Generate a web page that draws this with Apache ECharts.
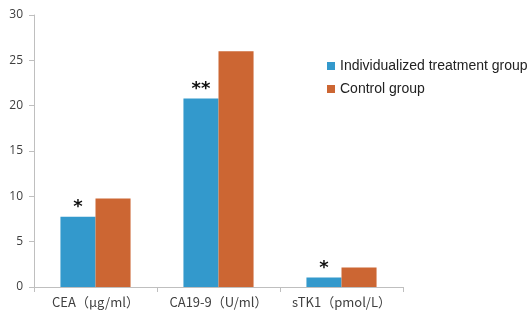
<!DOCTYPE html>
<html>
<head>
<meta charset="utf-8">
<script src="https://cdn.jsdelivr.net/npm/echarts@6/dist/echarts.min.js"></script>
<style>
  html, body { margin: 0; padding: 0; background: #fff; }
  #chart { width: 528px; height: 320px; }
</style>
</head>
<body>
<div id="chart"></div>
<script>
// Tumour marker levels by group
const categories = ['CEA（μg/ml）', 'CA19-9（U/ml）', 'sTK1（pmol/L）'];
const individualized = [7.75, 20.8, 1.05];
const control = [9.75, 26.0, 2.15];
const significance = ['*', '**', '*'];
const seriesNames = ['Individualized treatment group', 'Control group'];

const chart = echarts.init(document.getElementById('chart'));
chart.setOption({
  animation: false,
  backgroundColor: '#ffffff',
  grid: { left: 34, right: 125, top: 15, bottom: 33 },
  legend: {
    orient: 'vertical',
    left: 322,
    top: 54,
    itemWidth: 8,
    itemHeight: 8,
    itemGap: 9,
    icon: 'rect',
    textStyle: { fontFamily: 'Liberation Sans', fontSize: 14, color: '#222' },
    data: seriesNames
  },
  xAxis: {
    type: 'category',
    data: categories,
    axisLine: { lineStyle: { color: '#bfbfbf', width: 1 } },
    axisTick: { show: true, length: 5, lineStyle: { color: '#bfbfbf' } },
    axisLabel: {
      interval: 0,
      hideOverlap: false,
      fontFamily: 'Noto Sans CJK SC',
      fontSize: 13,
      color: '#404040',
      margin: 9
    }
  },
  yAxis: {
    type: 'value',
    min: 0,
    max: 30,
    interval: 5,
    axisLine: { show: true, lineStyle: { color: '#bfbfbf', width: 1 } },
    axisTick: { show: true, length: 5, lineStyle: { color: '#bfbfbf' } },
    splitLine: { show: false },
    axisLabel: { fontFamily: 'Open Sans', fontSize: 12, color: '#404040', margin: 11 }
  },
  series: [
    {
      name: seriesNames[0],
      type: 'bar',
      data: individualized,
      barGap: '0%',
      barCategoryGap: '43%',
      itemStyle: { color: '#3399cc' },
      label: {
        show: true,
        position: 'top',
        distance: 0,
        formatter: p => significance[p.dataIndex],
        fontSize: 18,
        fontWeight: 'bold',
        color: '#111',
        fontFamily: 'DejaVu Sans'
      }
    },
    {
      name: seriesNames[1],
      type: 'bar',
      data: control,
      itemStyle: { color: '#cc6633' }
    }
  ]
});
</script>
</body>
</html>
